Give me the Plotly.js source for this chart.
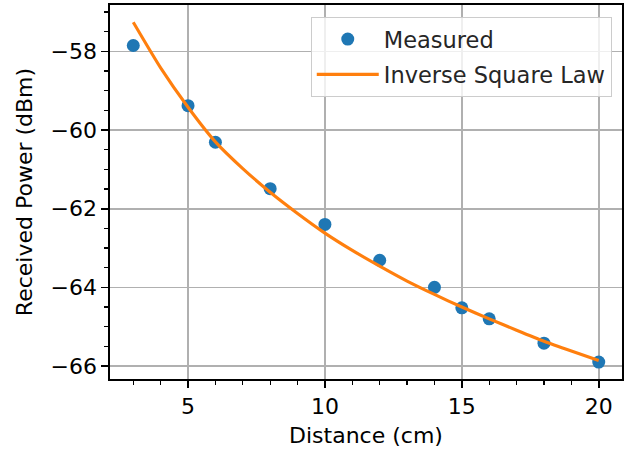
<!DOCTYPE html>
<html>
<head>
<meta charset="utf-8">
<script src="https://cdn.plot.ly/plotly-3.0.1.min.js"></script>
<style>
  html, body { margin: 0; padding: 0; background: #fff; }
  #chart { width: 635px; height: 456px; }
</style>
</head>
<body>
<div id="chart"></div>
<script>
// Measured data points
const measuredDistance = [3, 5, 6, 8, 10, 12, 14, 15, 16, 18, 20];
const measuredPower = [-57.85, -59.38, -60.31, -61.49, -62.40, -63.31, -64.00, -64.52, -64.80, -65.42, -65.90];

// Inverse square law curve
const modelDistance = [3, 4, 5, 6, 7, 8, 9, 10, 11, 12, 13, 14, 15, 16, 17, 18, 19, 20];
const modelPower = [-57.26, -58.42, -59.42, -60.30, -60.98, -61.58, -62.12, -62.62, -63.06, -63.46, -63.84, -64.18, -64.50, -64.80, -65.09, -65.37, -65.62, -65.86];

const xTicks = [5, 10, 15, 20];
const yTicks = [-66, -64, -62, -60, -58];
const yTickText = ['\u221266', '\u221264', '\u221262', '\u221260', '\u221258'];

const FONT = 'DejaVu Sans, Liberation Sans, sans-serif';
const FS = 22;

const traces = [
  {
    x: measuredDistance, y: measuredPower,
    type: 'scatter', mode: 'markers', name: 'Measured', legendgroup: 'a',
    marker: { color: '#1f77b4', size: 13 }
  },
  {
    x: modelDistance, y: modelPower,
    type: 'scatter', mode: 'lines', name: 'Inverse Square Law', legendgroup: 'b',
    line: { color: '#ff7f0e', width: 3.1, shape: 'spline', smoothing: 0.6 }
  }
];

const axisCommon = {
  showline: true, mirror: true, linecolor: '#000', linewidth: 1.6,
  showgrid: true, gridcolor: '#b0b0b0', gridwidth: 1.6,
  zeroline: false,
  ticks: 'outside', ticklen: 7, tickwidth: 1.6, tickcolor: '#000',
  tickfont: { family: FONT, size: FS, color: '#000' }
};

const layout = {
  width: 635, height: 456,
  margin: { l: 110, r: 13, t: 5, b: 77 },
  paper_bgcolor: '#fff', plot_bgcolor: '#fff',
  font: { family: FONT, size: FS, color: '#000' },
  showlegend: true,
  legend: {
    x: 0.98, xanchor: 'right', y: 0.968, yanchor: 'top',
    bgcolor: 'rgba(255,255,255,0.8)', bordercolor: '#cccccc', borderwidth: 1,
    font: { family: FONT, size: 22.5, color: '#262626' },
    traceorder: 'grouped', tracegroupgap: 3,
    itemwidth: 62
  },
  xaxis: Object.assign({}, axisCommon, {
    range: [2.15, 20.85],
    tickvals: xTicks, ticktext: xTicks.map(String),
    minor: { ticks: 'outside', dtick: 1, tick0: 0, ticklen: 4, tickwidth: 1.2, tickcolor: '#000', showgrid: false },
    title: { text: 'Distance (cm)', font: { family: FONT, size: FS, color: '#000' }, standoff: 9 }
  }),
  yaxis: Object.assign({}, axisCommon, {
    range: [-66.33, -56.82],
    tickvals: yTicks, ticktext: yTickText,
    minor: { ticks: 'outside', dtick: 0.5, tick0: 0, ticklen: 4, tickwidth: 1.2, tickcolor: '#000', showgrid: false },
    title: { text: 'Received Power (dBm)', font: { family: FONT, size: FS, color: '#000' }, standoff: 12 }
  })
};

Plotly.newPlot('chart', traces, layout, { displayModeBar: false, staticPlot: true });
</script>
</body>
</html>
